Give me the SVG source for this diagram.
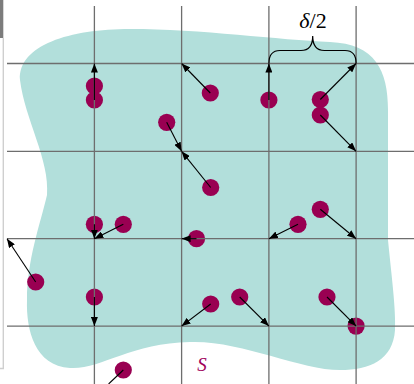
<svg xmlns="http://www.w3.org/2000/svg" width="414" height="384" viewBox="0 0 414 384">
<defs>
<marker id="ah" markerUnits="userSpaceOnUse" markerWidth="9" markerHeight="7" refX="9" refY="3.5" orient="auto">
<path d="M0,0 L9,3.5 L0,7 z" fill="#000"/>
</marker>
<style>
.grid{stroke:#6e6e6e;stroke-width:1.3;fill:none}
.dot{fill:#990052}
.arr{stroke:#000;stroke-width:1.1;fill:none;marker-end:url(#ah)}
</style>
</defs>
<rect width="414" height="384" fill="#fff"/>
<rect x="0" y="0" width="3.3" height="38" fill="#7c7c7c"/>
<path d="M3.3,38 V368.5 H0" fill="none" stroke="#cfcfcf" stroke-width="1.4"/>
<path id="region" d="M20,80 C18,45 70,29 130,29 C200,29 280,40 330,42 C375,44 388,70 388,110 L388,240 C392,280 396,310 395,330 C393,360 370,370 340,370 C300,370 240,340 190,342 C130,343 100,370 70,368 C35,366 26,330 27,300 C27,260 40,225 47,195 C50,160 25,120 20,80 Z" fill="#b2dfdb"/>
<g id="nodes">
<g id="p1"><circle class="dot" cx="94.4" cy="86" r="8.6"/></g>
<g id="p2"><circle class="dot" cx="94.4" cy="100" r="8.6"/></g>
<g id="p3"><circle class="dot" cx="166.7" cy="122.3" r="8.6"/></g>
<g id="p4"><circle class="dot" cx="210.3" cy="93" r="8.6"/></g>
<g id="p5"><circle class="dot" cx="268.9" cy="100" r="8.6"/></g>
<g id="p6"><circle class="dot" cx="320.3" cy="99.5" r="8.6"/></g>
<g id="p7"><circle class="dot" cx="320.3" cy="115" r="8.6"/></g>
<g id="p8"><circle class="dot" cx="210.7" cy="187.5" r="8.6"/></g>
<g id="p9"><circle class="dot" cx="94.4" cy="224.3" r="8.6"/></g>
<g id="p10"><circle class="dot" cx="123.3" cy="224.3" r="8.6"/></g>
<g id="p11"><circle class="dot" cx="196.5" cy="238.7" r="8.6"/></g>
<g id="p12"><circle class="dot" cx="298" cy="224.3" r="8.6"/></g>
<g id="p13"><circle class="dot" cx="320.3" cy="209.3" r="8.6"/></g>
<g id="p14"><circle class="dot" cx="35.7" cy="282" r="8.6"/></g>
<g id="p15"><circle class="dot" cx="94.4" cy="297" r="8.6"/></g>
<g id="p16"><circle class="dot" cx="210.7" cy="304" r="8.6"/></g>
<g id="p17"><circle class="dot" cx="239.7" cy="297" r="8.6"/></g>
<g id="p18"><circle class="dot" cx="327" cy="297" r="8.6"/></g>
<g id="p19"><circle class="dot" cx="356.1" cy="326.1" r="8.6"/></g>
<g id="p20"><circle class="dot" cx="123.3" cy="370" r="8.6"/></g>
</g>
<g id="grid" class="grid">
<path d="M94.4,6 V384 M181.6,6 V384 M268.9,6 V384 M356.1,6 V384"/>
<path d="M7,63.5 H414 M7,151.3 H414 M7,238.7 H414 M7,326.1 H414"/>
</g>
<g id="connectors">
<line class="arr" x1="94.4" y1="100" x2="94.4" y2="63.5"/>
<line class="arr" x1="210.3" y1="93" x2="181.6" y2="63.5"/>
<line class="arr" x1="166.7" y1="122.3" x2="181.6" y2="151.3"/>
<line class="arr" x1="210.7" y1="187.5" x2="181.6" y2="151.3"/>
<line class="arr" x1="268.9" y1="100" x2="268.9" y2="63.5"/>
<line class="arr" x1="320.3" y1="99.5" x2="356.1" y2="63.5"/>
<line class="arr" x1="320.3" y1="115" x2="356.1" y2="151.3"/>
<line class="arr" x1="94.4" y1="224.3" x2="94.4" y2="238.7"/>
<line class="arr" x1="123.3" y1="224.3" x2="94.4" y2="238.7"/>
<line class="arr" x1="196.5" y1="238.7" x2="181.6" y2="238.7"/>
<line class="arr" x1="298" y1="224.3" x2="268.9" y2="238.7"/>
<line class="arr" x1="320.3" y1="209.3" x2="356.1" y2="238.7"/>
<line class="arr" x1="35.7" y1="282" x2="7" y2="238.7"/>
<line class="arr" x1="94.4" y1="297" x2="94.4" y2="326.1"/>
<line class="arr" x1="210.7" y1="304" x2="181.6" y2="326.1"/>
<line class="arr" x1="239.7" y1="297" x2="268.9" y2="326.1"/>
<line class="arr" x1="327" y1="297" x2="356.1" y2="326.1"/>
<line x1="123.3" y1="370" x2="108.6" y2="384" stroke="#000" stroke-width="1.1"/>
</g>
<path id="brace" d="M268.9,63.5 C268.9,55 272,50.5 280,50.5 L301,50.5 C309,50.5 312.7,46 312.7,36 C312.7,46 316.4,50.5 324.4,50.5 L345,50.5 C353,50.5 356.1,55 356.1,63.5" fill="none" stroke="#000" stroke-width="1.2"/>
<text x="313" y="28" text-anchor="middle" font-family="Liberation Serif, serif" font-size="22"><tspan font-style="italic">δ</tspan>/2</text>
<text x="202" y="370.5" text-anchor="middle" font-family="Liberation Serif, serif" font-size="19" font-style="italic" fill="#a0005a">S</text>
</svg>
